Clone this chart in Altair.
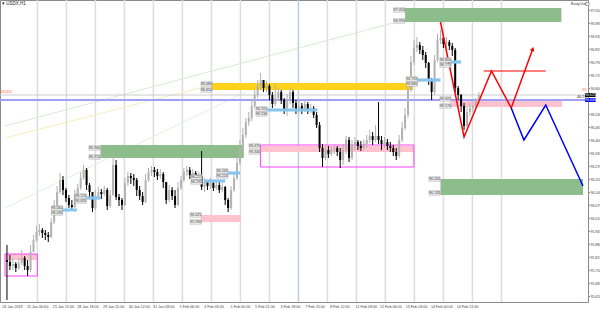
import altair as alt
import pandas as pd

# ---------------- candles (bar index, price) ----------------
first_open = 95.800
close = [95.790, 95.770, 95.780, 95.760, 95.785, 95.810, 95.770, 95.750, 95.840, 95.900,
         95.940, 95.950, 95.935, 95.925, 95.915, 95.990, 96.060, 96.140, 96.200, 96.150,
         96.110, 96.075, 96.065, 96.125, 96.160, 96.210, 96.250, 96.175, 96.140, 96.060,
         96.120, 96.140, 96.130, 96.150, 96.070, 96.125, 96.275, 96.115, 96.100, 96.075,
         96.185, 96.220, 96.210, 96.200, 96.150, 96.120, 96.090, 96.200, 96.240, 96.250,
         96.240, 96.220, 96.230, 96.190, 96.100, 96.150, 96.120, 96.075, 96.160, 96.200,
         96.240, 96.250, 96.225, 96.235, 96.210, 96.220, 96.165, 96.190, 96.170, 96.185,
         96.160, 96.175, 96.150, 96.165, 96.100, 96.060, 96.150, 96.210, 96.285, 96.360,
         96.425, 96.490, 96.510, 96.570, 96.625, 96.670, 96.700, 96.660, 96.670, 96.625,
         96.580, 96.610, 96.640, 96.600, 96.550, 96.600, 96.640, 96.585, 96.550, 96.570,
         96.555, 96.580, 96.550, 96.560, 96.525, 96.475, 96.360, 96.310, 96.350, 96.330,
         96.350, 96.360, 96.340, 96.300, 96.350, 96.400, 96.310, 96.375, 96.390, 96.370,
         96.360, 96.380, 96.400, 96.420, 96.400, 96.420, 96.400, 96.380, 96.390, 96.370,
         96.360, 96.340, 96.320, 96.400, 96.460, 96.525, 96.650, 96.790, 96.860, 96.875,
         96.850, 96.825, 96.785, 96.700, 96.640, 96.800, 96.900, 96.910, 96.880, 96.890,
         96.870, 96.850, 96.660, 96.625, 96.570, 96.470, 96.540, 96.560, 96.570, 96.600,
         96.625]
high = [95.875, 95.825, 95.810, 95.790, 95.810, 95.850, 95.820, 95.800, 95.875, 95.925,
        95.970, 95.980, 95.960, 95.950, 95.940, 96.010, 96.100, 96.170, 96.235, 96.220,
        96.160, 96.125, 96.100, 96.150, 96.180, 96.240, 96.275, 96.260, 96.185, 96.140,
        96.150, 96.165, 96.155, 96.170, 96.160, 96.150, 96.350, 96.300, 96.130, 96.110,
        96.210, 96.240, 96.235, 96.230, 96.210, 96.170, 96.140, 96.230, 96.260, 96.270,
        96.265, 96.255, 96.255, 96.240, 96.190, 96.175, 96.165, 96.150, 96.190, 96.220,
        96.260, 96.270, 96.265, 96.255, 96.245, 96.240, 96.345, 96.210, 96.200, 96.210,
        96.195, 96.200, 96.190, 96.185, 96.170, 96.110, 96.170, 96.240, 96.310, 96.400,
        96.460, 96.510, 96.540, 96.600, 96.650, 96.700, 96.735, 96.700, 96.695, 96.680,
        96.640, 96.685, 96.660, 96.650, 96.610, 96.630, 96.660, 96.650, 96.600, 96.600,
        96.585, 96.600, 96.590, 96.580, 96.570, 96.540, 96.490, 96.380, 96.375, 96.370,
        96.370, 96.380, 96.370, 96.360, 96.380, 96.420, 96.415, 96.400, 96.415, 96.400,
        96.395, 96.400, 96.425, 96.450, 96.440, 96.475, 96.590, 96.420, 96.415, 96.405,
        96.390, 96.375, 96.360, 96.425, 96.490, 96.560, 96.690, 96.820, 96.900, 96.915,
        96.890, 96.870, 96.840, 96.790, 96.710, 96.825, 96.930, 96.950, 96.920, 96.915,
        96.900, 96.885, 96.860, 96.670, 96.630, 96.585, 96.570, 96.585, 96.595, 96.610,
        96.640]
low = [95.600, 95.750, 95.750, 95.740, 95.750, 95.775, 95.750, 95.720, 95.740, 95.840,
       95.890, 95.920, 95.910, 95.900, 95.890, 95.910, 95.980, 96.050, 96.130, 96.125,
       96.090, 96.060, 96.050, 96.060, 96.115, 96.150, 96.200, 96.150, 96.110, 96.040,
       96.050, 96.110, 96.105, 96.120, 96.050, 96.060, 96.120, 96.100, 96.070, 96.050,
       96.070, 96.170, 96.180, 96.170, 96.120, 96.100, 96.075, 96.085, 96.190, 96.220,
       96.215, 96.200, 96.205, 96.160, 96.080, 96.090, 96.100, 96.060, 96.070, 96.150,
       96.190, 96.220, 96.205, 96.210, 96.195, 96.195, 96.150, 96.140, 96.150, 96.155,
       96.145, 96.150, 96.135, 96.140, 96.075, 96.040, 96.050, 96.140, 96.200, 96.275,
       96.350, 96.410, 96.470, 96.495, 96.560, 96.610, 96.650, 96.640, 96.640, 96.600,
       96.560, 96.570, 96.600, 96.580, 96.530, 96.520, 96.580, 96.560, 96.530, 96.535,
       96.530, 96.540, 96.530, 96.535, 96.510, 96.460, 96.340, 96.265, 96.300, 96.310,
       96.320, 96.330, 96.320, 96.260, 96.275, 96.330, 96.290, 96.300, 96.350, 96.350,
       96.345, 96.350, 96.360, 96.385, 96.375, 96.390, 96.380, 96.350, 96.360, 96.350,
       96.340, 96.320, 96.300, 96.310, 96.390, 96.450, 96.510, 96.640, 96.775, 96.840,
       96.830, 96.800, 96.760, 96.675, 96.600, 96.625, 96.790, 96.880, 96.860, 96.860,
       96.850, 96.820, 96.640, 96.600, 96.540, 96.450, 96.460, 96.520, 96.540, 96.555,
       96.580]

# ---------------- zones ----------------
zone_x1 = [135.0, 69.3, 150.3, 31.7, 65.7, -0.67, 86.0, 147.0]
zone_x2 = [188.0, 137.7, 188.3, 80.3, 79.3, 10.3, 138.0, 195.33]
zone_top = [97.060, 96.685, 96.600, 96.375, 96.025, 95.830, 96.370, 96.205]
zone_bot = [96.990, 96.650, 96.565, 96.310, 95.990, 95.800, 96.340, 96.125]
zone_fill = ["#8dbd8a", "#ffd21a", "#ffc3cf", "#8dbd8a", "#ffc3cf", "#ffc3cf", "#ffc3cf", "#8dbd8a"]

# magenta outline boxes
box_x1 = [-0.67, 86.0]
box_x2 = [10.3, 138.0]
box_top = [95.830, 96.375]
box_bot = [95.720, 96.265]

# light blue small levels
lvl_x1 = [18.7, 27.0, 66.7, 75.0, 88.3, 139.0, 150.3]
lvl_x2 = [23.7, 31.7, 74.0, 79.0, 105.3, 147.0, 154.0]
lvl_p = [96.050, 96.110, 96.195, 96.235, 96.550, 96.700, 96.790]

# price labels near zones
lab_i = [133.0, 133.0, 67.7, 67.7, 148.7, 148.7, 29.7, 29.7, 64.0, 64.0, 145.0, 145.0,
         84.0, 84.0, 17.0, 17.0, 25.0, 25.0, 64.3, 64.3, 73.0, 73.0, 86.3, 86.3,
         148.7, 148.7, 137.3, 137.3]
lab_p = [97.050, 96.995, 96.680, 96.650, 96.605, 96.570, 96.360, 96.315, 96.025, 95.990,
         96.205, 96.135, 96.370, 96.340, 96.060, 96.035, 96.120, 96.095, 96.215, 96.190,
         96.245, 96.220, 96.555, 96.530, 96.800, 96.775, 96.705, 96.680]

# forecast paths
red_i = [147.0, 155.0, 164.3, 171.0, 178.3]
red_p = [96.990, 96.415, 96.745, 96.560, 96.855]
blue_i = [171.0, 175.3, 182.7, 195.33]
blue_p = [96.560, 96.400, 96.575, 96.170]
red_level = 96.745
red_level_i = [161.7, 182.7]

# horizontal lines
lavender_level = 96.600
bid_level = 96.625

# diagonal trend lines
diag_x1 = [-0.67, -0.67, -0.67]
diag_y1 = [96.470, 96.410, 96.060]
diag_x2 = [136.0, 69.3, 81.0]
diag_y2 = [97.005, 96.675, 96.640]
diag_color = ["#d6ecd0", "#f7edbb", "#e2f2dc"]

# day separators
separators = [10.33, 20.17, 30.0, 39.83, 49.67, 59.5, 69.33, 79.17, 89.0, 98.83,
              108.67, 118.5, 128.33, 138.17, 148.0, 157.83, 167.67]
highlight_sep = 98.83

# axes (the 96.595 tick sits under the level box, as in the reference)
y_ticks = [97.050, 96.985, 96.920, 96.855, 96.790, 96.725, 96.660, 96.530, 96.465,
           96.400, 96.335, 96.270, 96.205, 96.140, 96.075, 96.010, 95.945, 95.880, 95.815,
           95.750, 95.685, 95.620]
x_label_pos = [1.7, 10.2, 19.0, 27.3, 36.0, 44.7, 53.0, 61.7, 70.0, 79.0, 87.3, 96.0,
               104.3, 112.7, 121.7, 130.0, 138.7, 147.3, 156.0]
x_label_txt = ["24 Jan 2019", "25 Jan 00:00", "25 Jan 21:00", "28 Jan 18:00", "29 Jan 15:00",
               "30 Jan 12:00", "31 Jan 09:00", "1 Feb 06:00", "4 Feb 03:00", "5 Feb 00:00",
               "5 Feb 21:00", "6 Feb 18:00", "7 Feb 15:00", "8 Feb 12:00", "11 Feb 09:00",
               "12 Feb 06:00", "13 Feb 03:00", "14 Feb 00:00", "14 Feb 21:00"]

FONT = "Liberation Sans"

# ---------------- frames ----------------
opens = [first_open] + close[:-1]
candles = pd.DataFrame({"i": list(range(len(close))), "open": opens, "high": high,
                        "low": low, "close": close})
candles["dir"] = ["up" if c >= o else "down" for o, c in zip(opens, close)]

zones = pd.DataFrame({"x1": zone_x1, "x2": zone_x2, "top": zone_top, "bot": zone_bot,
                      "fill": zone_fill})
boxes = pd.DataFrame({"x1": box_x1, "x2": box_x2, "top": box_top, "bot": box_bot})
lvls = pd.DataFrame({"x1": lvl_x1, "x2": lvl_x2, "p": lvl_p})
lvls["top"] = lvls["p"] + 0.008
lvls["bot"] = lvls["p"] - 0.008
labels = pd.DataFrame({"i": lab_i, "p": lab_p})
labels["txt"] = [f"{v:.3f}" for v in lab_p]
labels["x1"] = labels["i"] - 1.9
labels["x2"] = labels["i"] + 1.9
labels["top"] = labels["p"] + 0.011
labels["bot"] = labels["p"] - 0.011
red = pd.DataFrame({"i": red_i, "p": red_p, "o": list(range(len(red_i)))})
blue = pd.DataFrame({"i": blue_i, "p": blue_p, "o": list(range(len(blue_i)))})
diags = pd.DataFrame({"x1": diag_x1, "y1": diag_y1, "x2": diag_x2, "y2": diag_y2,
                      "c": diag_color})
seps = pd.DataFrame({"i": separators})
seps["c"] = ["#b8cdec" if v == highlight_sep else "#dddddd" for v in separators]

XS = alt.Scale(domain=[-0.667, 195.333], nice=False, zero=False)
YS = alt.Scale(domain=[95.59, 97.10], nice=False, zero=False)

js_txt = "[" + ",".join(f"'{t}'" for t in x_label_txt) + "]"
js_pos = "[" + ",".join(str(v) for v in x_label_pos) + "]"
x_axis = alt.Axis(orient="bottom", values=x_label_pos, labelExpr=f"{js_txt}[indexof({js_pos}, datum.value)]",
                  labelFontSize=3.7, labelColor="#444", labelFont=FONT, tickSize=0, domain=False,
                  grid=False, labelPadding=2, labelOverlap=False, labelFlush=False, title=None, zindex=0)
y_axis = alt.Axis(orient="right", values=y_ticks, format=".3f", labelFontSize=3.5, labelColor="#444",
                  labelFont=FONT, tickSize=1.5, tickColor="#888", domain=False, grid=False,
                  labelPadding=0.5, labelOverlap=False, labelFlush=False, title=None, zindex=0)


def X(f):
    return alt.X(f, type="quantitative", scale=XS, axis=x_axis, title=None)


def Y(f):
    return alt.Y(f, type="quantitative", scale=YS, axis=y_axis, title=None)


layers = []

# separators
layers.append(alt.Chart(seps).mark_rule(strokeWidth=1.5).encode(
    x=X("i"), color=alt.Color("c:N", scale=None)))

# diagonal trend lines
layers.append(alt.Chart(diags).mark_rule(strokeWidth=1).encode(
    x=X("x1"), x2="x2", y=Y("y1"), y2="y2", color=alt.Color("c:N", scale=None)))

# bid line
layers.append(alt.Chart(pd.DataFrame({"p": [bid_level]})).mark_rule(color="#cccccc", strokeWidth=1).encode(
    y=Y("p")))

# zones
layers.append(alt.Chart(zones).mark_rect().encode(
    x=X("x1"), x2="x2", y=Y("top"), y2="bot", color=alt.Color("fill:N", scale=None)))
layers.append(alt.Chart(boxes).mark_rect(fillOpacity=0, stroke="#ff40ff", strokeWidth=1).encode(
    x=X("x1"), x2="x2", y=Y("top"), y2="bot"))

layers.append(alt.Chart(pd.DataFrame({"p": [lavender_level]})).mark_rule(color="#9f9ff8", strokeWidth=2).encode(
    y=Y("p")))

# candles
cscale = alt.Scale(domain=["up", "down"], range=["#b2b2b2", "#000000"])
layers.append(alt.Chart(candles).mark_rule(strokeWidth=1).encode(
    x=X("i"), y=Y("low"), y2="high", color=alt.Color("dir:N", scale=cscale, legend=None)))
layers.append(alt.Chart(candles).mark_bar(size=2).encode(
    x=X("i"), y=Y("open"), y2="close", color=alt.Color("dir:N", scale=cscale, legend=None)))

# small light-blue levels
layers.append(alt.Chart(lvls).mark_rect(color="#86c6ee").encode(
    x=X("x1"), x2="x2", y=Y("top"), y2="bot"))

# forecast paths
layers.append(alt.Chart(red).mark_line(color="#ff0000", strokeWidth=1.5).encode(
    x=X("i"), y=Y("p"), order="o:Q"))
layers.append(alt.Chart(pd.DataFrame({"i": [red_level_i[0]], "i2": [red_level_i[1]], "p": [red_level]}))
              .mark_rule(color="#ff0000", strokeWidth=1.2).encode(x=X("i"), x2="i2", y=Y("p")))
layers.append(alt.Chart(red.tail(1)).mark_point(shape="triangle-up", filled=True, size=22,
                                                 color="#ff0000", angle=20, opacity=1).encode(
    x=X("i"), y=Y("p")))
layers.append(alt.Chart(blue).mark_line(color="#0000ff", strokeWidth=1.5).encode(
    x=X("i"), y=Y("p"), order="o:Q"))

# zone price labels
layers.append(alt.Chart(labels).mark_rect(fill="#f2f2f2", stroke="#9a9a9a", strokeWidth=0.5).encode(
    x=X("x1"), x2="x2", y=Y("top"), y2="bot"))
layers.append(alt.Chart(labels).mark_text(fontSize=3.6, font=FONT, color="#333").encode(
    x=X("i"), y=Y("p"), text="txt:N"))

# right-side price boxes (current price / level)
pbox = pd.DataFrame({"x1": [196.0, 196.0], "x2": [199.6, 199.6], "p": [bid_level, lavender_level],
                     "c": ["#000000", "#0000ff"]})
pbox["top"] = pbox["p"] + 0.010
pbox["bot"] = pbox["p"] - 0.010
pbox["xm"] = (pbox["x1"] + pbox["x2"]) / 2
pbox["txt"] = [f"{v:.3f}" for v in pbox["p"]]
layers.append(alt.Chart(pbox).mark_rect().encode(
    x=X("x1"), x2="x2", y=Y("top"), y2="bot", color=alt.Color("c:N", scale=None)))
layers.append(alt.Chart(pbox).mark_text(fontSize=3.4, font=FONT, color="white").encode(
    x=X("xm"), y=Y("p"), text="txt:N"))

# decorative texts
one = pd.DataFrame({"a": [0]})
notes = [("\u25be USDX,H1", 2, 4, "#222", 4.5, "left"),
         ("EasyOrder", 571, 4, "#333", 3.8, "left"),
         ("20/24", 1, 92, "#ff5a36", 4.2, "left"),
         ("33", 582, 90, "#ff6a3a", 4.0, "left"),
         ("44:24", 577, 97, "#222", 3.8, "left")]
for t, px, py, col, fs, al in notes:
    layers.append(alt.Chart(one).mark_text(fontSize=fs, font=FONT, color=col, align=al).encode(
        x=alt.value(px), y=alt.value(py), text=alt.value(t)))
layers.append(alt.Chart(one).mark_rect(fill="white", stroke="#777", strokeWidth=0.6).encode(
    x=alt.value(586), x2=alt.value(589), y=alt.value(2.5), y2=alt.value(5.5)))

chart = alt.layer(*layers).properties(
    width=588, height=302,
    autosize=alt.AutoSizeParams(type="none"),
    padding={"left": 0, "top": 0, "right": 12, "bottom": 8},
    background="white",
).configure_view(stroke="#8a8a8a", strokeWidth=1).configure_text(font=FONT)

chart.save("out.html", embed_options={"renderer": "svg", "actions": False})
